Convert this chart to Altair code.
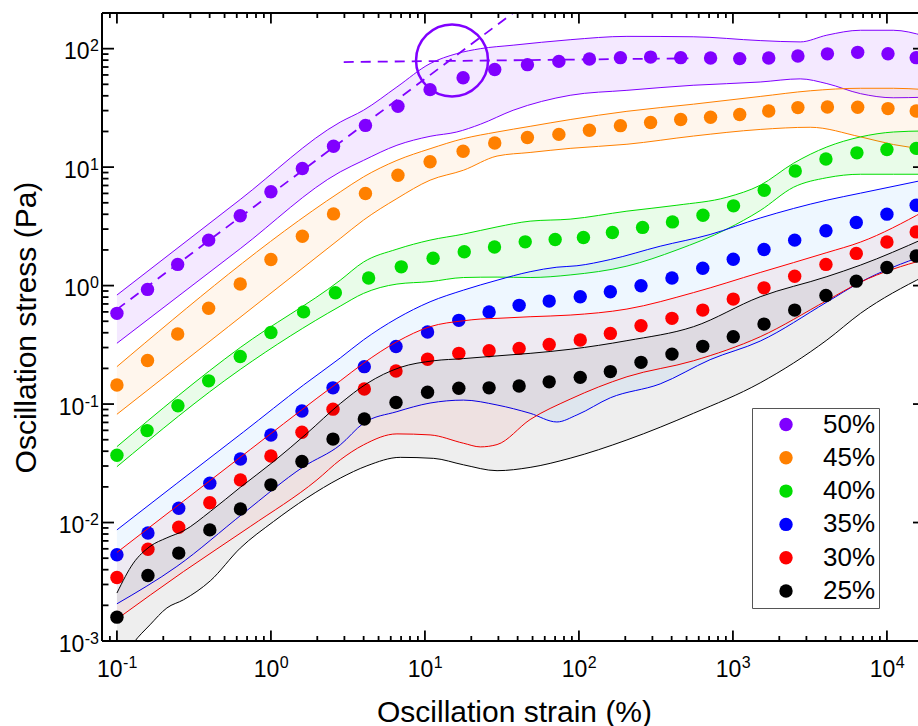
import altair as alt
import pandas as pd

# ---- measured data: oscillation strain (%) vs oscillation stress (Pa) ----
LABELS = ["50%", "45%", "40%", "35%", "30%", "25%"]
COLORS = ["#8000ff", "#ff8000", "#00dd00", "#0000ff", "#ff0000", "#000000"]

STRAIN_HIGH = [0.1, 0.158, 0.248, 0.394, 0.632, 1.00, 1.60, 2.55, 4.11, 6.68, 10.8, 17.7, 28.4,
               46.3, 74.1, 117, 186, 292, 458, 716, 1107, 1708, 2642, 4108, 6460, 10160, 15490]
STRAIN_40 = [0.1, 0.157, 0.249, 0.394, 0.632, 1.00, 1.63, 2.62, 4.31, 7.02, 11.3, 18.0, 28.3,
             44.8, 70.1, 107, 165, 259, 405, 639, 1009, 1597, 2539, 4018, 6385, 10000, 15490]
STRAIN_LOW = [0.1, 0.159, 0.252, 0.401, 0.634, 1.00, 1.59, 2.53, 4.04, 6.49, 10.4, 16.6, 26.1,
              40.9, 64.1, 102, 160, 253, 402, 637, 1005, 1592, 2518, 4018, 6324, 10000, 15490]

STRESS_50 = [0.583, 0.929, 1.51, 2.42, 3.89, 6.20, 9.73, 15.0, 22.5, 32.7, 45.1, 56.9, 66.6,
             73.3, 78.1, 81.7, 84.0, 84.9, 84.0, 83.3, 82.4, 83.3, 86.6, 90.4, 93.1, 90.7, 84.0]
STRESS_45 = [0.145, 0.233, 0.390, 0.643, 1.03, 1.66, 2.61, 4.03, 5.99, 8.55, 11.1, 13.6, 16.0,
             17.8, 18.9, 20.5, 22.4, 23.8, 25.2, 26.4, 27.8, 29.8, 31.8, 32.2, 32.0, 31.2, 29.8]
STRESS_40 = [0.0370, 0.0597, 0.0969, 0.157, 0.252, 0.402, 0.600, 0.869, 1.16, 1.44, 1.70, 1.93,
             2.12, 2.34, 2.45, 2.55, 2.81, 3.10, 3.45, 3.93, 4.71, 6.38, 9.29, 11.7, 13.2, 14.1, 14.4]
STRESS_35 = [0.00534, 0.00815, 0.0132, 0.0215, 0.0344, 0.0548, 0.0875, 0.137, 0.207, 0.306, 0.406,
             0.509, 0.598, 0.681, 0.740, 0.805, 0.887, 0.996, 1.16, 1.40, 1.67, 2.02, 2.42, 2.90,
             3.41, 4.01, 4.77]
STRESS_30 = [0.00344, 0.00594, 0.00912, 0.0147, 0.0229, 0.0365, 0.0578, 0.0906, 0.134, 0.190,
             0.239, 0.268, 0.282, 0.295, 0.319, 0.347, 0.395, 0.458, 0.529, 0.621, 0.769, 0.957,
             1.20, 1.51, 1.87, 2.33, 2.84]
STRESS_25 = [0.00159, 0.00357, 0.00552, 0.00867, 0.0130, 0.0208, 0.0327, 0.0506, 0.0748, 0.103,
             0.126, 0.136, 0.137, 0.142, 0.154, 0.168, 0.188, 0.225, 0.264, 0.307, 0.370, 0.473,
             0.621, 0.826, 1.09, 1.42, 1.78]

# ---- spread of repeated runs (upper / lower envelope) ----
BAND_X_50 = [0.1, 0.632, 2.82, 3.99, 6.58, 10.8, 16.1, 22.9, 37.4, 87.7, 205, 552, 1503, 2735,
             4074, 6739, 10990, 17500]
BAND_HI_50 = [0.832, 5.33, 24.0, 30.2, 47.5, 74.8, 90.8, 100, 107, 119, 127, 126, 117, 114, 130,
              143, 143, 128]
BAND_LO_50 = [0.326, 2.05, 9.12, 11.4, 15.3, 18.2, 19.8, 23.0, 30.2, 40.4, 44.5, 49.1, 52.3, 55.6,
              50.7, 41.7, 38.5, 38.9]

BAND_X_45 = [0.1, 2.82, 3.99, 6.58, 10.8, 17.8, 29.4, 48.2, 87.7, 205, 555, 1503, 3177, 6739,
             11040, 17500]
BAND_HI_45 = [0.207, 6.18, 8.27, 11.4, 14.3, 17.4, 19.8, 22.1, 25.2, 29.6, 34.0, 39.5, 44.1, 46.3,
              46.3, 45.2]
BAND_LO_45 = [0.0820, 2.50, 3.57, 5.43, 7.76, 9.42, 12.4, 13.3, 14.4, 15.6, 18.3, 20.8, 21.7, 18.0,
              15.5, 14.2]

BAND_X_40 = [0.1, 0.632, 2.82, 3.99, 6.58, 10.8, 17.8, 29.4, 48.2, 87.7, 205, 433, 914, 1503, 2478,
             4074, 6739, 11040, 17500]
BAND_HI_40 = [0.0437, 0.300, 1.11, 1.58, 2.03, 2.42, 2.72, 3.13, 3.50, 3.64, 4.25, 4.77, 5.57, 7.03,
              10.8, 14.8, 18.0, 19.8, 20.2]
BAND_LO_40 = [0.0296, 0.196, 0.671, 0.859, 1.03, 1.08, 1.17, 1.18, 1.17, 1.23, 1.46, 2.00, 3.00,
              4.30, 6.77, 8.14, 8.71, 8.71, 8.71]

BAND_X_35 = [0.1, 0.245, 0.664, 1.63, 2.82, 3.99, 6.58, 10.8, 17.8, 29.4, 48.2, 71.9, 97.0, 160,
             337, 711, 1503, 4074, 6739, 17500]
BAND_HI_35 = [0.00867, 0.0214, 0.0582, 0.145, 0.245, 0.348, 0.529, 0.730, 0.916, 1.11, 1.31, 1.43,
              1.47, 1.66, 2.15, 2.70, 3.72, 5.26, 6.03, 7.80]
BAND_LO_35 = [0.00206, 0.00426, 0.0120, 0.0296, 0.0452, 0.0689, 0.0863, 0.102, 0.108, 0.0982,
              0.0836, 0.0706, 0.0809, 0.113, 0.148, 0.237, 0.340, 0.726, 1.07, 1.80]

BAND_X_30 = [0.1, 0.271, 0.734, 1.99, 2.82, 3.99, 6.58, 10.8, 17.8, 22.9, 29.4, 48.2, 87.7, 205,
             555, 1503, 4074, 6739, 17500]
BAND_HI_30 = [0.00559, 0.0152, 0.0413, 0.112, 0.157, 0.221, 0.336, 0.450, 0.505, 0.522, 0.529,
              0.546, 0.564, 0.634, 0.873, 1.29, 1.90, 2.33, 4.25]
BAND_LO_30 = [0.00153, 0.00386, 0.00925, 0.0229, 0.0338, 0.0452, 0.0560, 0.0549, 0.0467, 0.0435,
              0.0455, 0.0740, 0.110, 0.170, 0.232, 0.370, 0.748, 1.07, 1.66]

BAND_X_25 = [0.1, 0.128, 0.164, 0.211, 0.271, 0.404, 0.632, 1.04, 1.71, 2.82, 4.20, 6.92, 11.4,
             17.8, 29.4, 48.2, 87.7, 205, 555, 1503, 4074, 6739, 17500]
BAND_HI_25 = [0.00254, 0.00455, 0.00628, 0.00743, 0.00851, 0.0124, 0.0198, 0.0327, 0.0565, 0.101,
              0.149, 0.204, 0.232, 0.242, 0.255, 0.268, 0.290, 0.343, 0.450, 0.805, 1.19, 1.49, 2.50]
BAND_LO_25 = [0.000573, 0.000962, 0.00137, 0.00190, 0.00223, 0.00322, 0.00608, 0.0102, 0.0161,
              0.0237, 0.0301, 0.0355, 0.0348, 0.0307, 0.0274, 0.0292, 0.0349, 0.0498, 0.0836, 0.151,
              0.347, 0.583, 1.20]

# ---- guide lines for the yield point of the 50% sample ----
SLOPE_X = [0.1, 50]
SLOPE_Y = [0.63, 266]
PLATEAU_X = [2.97, 514]
PLATEAU_Y = [77.1, 82.8]
YIELD_X = [15.0]
YIELD_Y = [79.6]

X_DECADES = [-1, 0, 1, 2, 3, 4]
Y_DECADES = [-3, -2, -1, 0, 1, 2]

SERIES = [
    ("50%", STRAIN_HIGH, STRESS_50, BAND_X_50, BAND_HI_50, BAND_LO_50, 0.085),
    ("45%", STRAIN_HIGH, STRESS_45, BAND_X_45, BAND_HI_45, BAND_LO_45, 0.07),
    ("40%", STRAIN_40, STRESS_40, BAND_X_40, BAND_HI_40, BAND_LO_40, 0.085),
    ("35%", STRAIN_LOW, STRESS_35, BAND_X_35, BAND_HI_35, BAND_LO_35, 0.08),
    ("30%", STRAIN_LOW, STRESS_30, BAND_X_30, BAND_HI_30, BAND_LO_30, 0.05),
    ("25%", STRAIN_LOW, STRESS_25, BAND_X_25, BAND_HI_25, BAND_LO_25, 0.065),
]
FILL = {"50%": "#8000ff", "45%": "#ff8000", "40%": "#00dd00",
        "35%": "#2299ff", "30%": "#ff0000", "25%": "#000000"}

FONT = "Liberation Sans"
W, H = 816, 628
XR = 823  # the frame continues slightly past the right edge of the page

xs = alt.Scale(type="log", domain=[0.08, 17670], range=[0, XR])
ys = alt.Scale(type="log", domain=[0.001, 200])

X_AXIS = alt.Axis(title="Oscillation strain (%)", labels=False, ticks=False, domain=False,
                  grid=False, titleFont=FONT, titleFontSize=30, titleFontWeight="normal",
                  titleColor="black", titleX=412, titleY=80, titleBaseline="alphabetic")
Y_AXIS = alt.Axis(title="Oscillation stress (Pa)", labels=False, ticks=False, domain=False,
                  grid=False, titleFont=FONT, titleFontSize=30, titleFontWeight="normal",
                  titleColor="black", titleX=-67, titleY=314, titleAngle=270,
                  titleBaseline="alphabetic")


def X(field):
    return alt.X(field, type="quantitative", scale=xs, axis=X_AXIS)


def Y(field):
    return alt.Y(field, type="quantitative", scale=ys, axis=Y_AXIS)


layers = []
for label, sx, sy, bx, bhi, blo, op in SERIES:
    color = COLORS[LABELS.index(label)]
    band = pd.DataFrame({"strain": bx, "hi": bhi, "lo": blo})
    pts = pd.DataFrame({"strain": sx, "stress": sy, "conc": label})
    layers.append(alt.Chart(band).mark_area(interpolate="monotone", color=FILL[label],
                                            opacity=op, clip=True)
                  .encode(x=X("strain"), y=Y("hi"), y2="lo"))
    for edge in ("hi", "lo"):
        layers.append(alt.Chart(band).mark_line(interpolate="monotone", color=color,
                                                strokeWidth=1, clip=True)
                      .encode(x=X("strain"), y=Y(edge)))
    if label == "50%":
        for gx, gy in ((SLOPE_X, SLOPE_Y), (PLATEAU_X, PLATEAU_Y)):
            layers.append(alt.Chart(pd.DataFrame({"strain": gx, "stress": gy}))
                          .mark_line(color=color, strokeWidth=1.8, strokeDash=[10, 7], clip=True)
                          .encode(x=X("strain"), y=Y("stress")))
    layers.append(alt.Chart(pts).mark_circle(size=180, opacity=1, clip=True).encode(
        x=X("strain"), y=Y("stress"),
        color=alt.Color("conc:N", scale=alt.Scale(domain=LABELS, range=COLORS),
                        legend=alt.Legend(title=None, orient="none", legendX=650, legendY=395,
                                          padding=3.5, titlePadding=0,
                                          strokeColor="#555555", fillColor="white",
                                          labelFont=FONT, labelFontSize=26, labelColor="black",
                                          symbolType="circle", symbolSize=180,
                                          symbolStrokeWidth=0, symbolOpacity=1, rowPadding=7.3,
                                          symbolOffset=17.5, labelOffset=24))))

# yield marker
layers.append(alt.Chart(pd.DataFrame({"strain": YIELD_X, "stress": YIELD_Y}))
              .mark_point(shape="circle", size=5184, filled=False, color=COLORS[0],
                          strokeWidth=2.5, opacity=1)
              .encode(x=X("strain"), y=Y("stress")))

# frame
one = pd.DataFrame({"a": [0]})
for enc in (dict(x=alt.value(0), x2=alt.value(XR), y=alt.value(0)),
            dict(x=alt.value(0), x2=alt.value(XR), y=alt.value(H)),
            dict(x=alt.value(0), y=alt.value(0), y2=alt.value(H)),
            dict(x=alt.value(XR), y=alt.value(0), y2=alt.value(H))):
    layers.append(alt.Chart(one).mark_rule(color="black", strokeWidth=2).encode(**enc))

# inward ticks on all four sides
x_major = [10.0 ** e for e in X_DECADES]
x_minor = [0.09] + [k * 10.0 ** e for e in X_DECADES for k in range(2, 10) if k * 10.0 ** e < 17670]
y_major = [10.0 ** e for e in Y_DECADES]
y_minor = [k * 10.0 ** e for e in Y_DECADES for k in range(2, 10) if k * 10.0 ** e < 200]
for vals, ln in ((x_major, 10.5), (x_minor, 5)):
    d = pd.DataFrame({"v": vals})
    layers.append(alt.Chart(d).mark_rule(color="black", strokeWidth=1.8)
                  .encode(x=X("v"), y=alt.value(H), y2=alt.value(H - ln)))
    layers.append(alt.Chart(d).mark_rule(color="black", strokeWidth=1.8)
                  .encode(x=X("v"), y=alt.value(0), y2=alt.value(ln)))
for vals, ln in ((y_major, 12), (y_minor, 6.5)):
    d = pd.DataFrame({"v": vals})
    layers.append(alt.Chart(d).mark_rule(color="black", strokeWidth=1.8)
                  .encode(y=Y("v"), x=alt.value(0), x2=alt.value(ln)))
    layers.append(alt.Chart(d).mark_rule(color="black", strokeWidth=1.8)
                  .encode(y=Y("v"), x=alt.value(XR), x2=alt.value(XR - ln)))

# tick labels as 10 with a raised exponent
BASE, EXP = 23, 16
W10 = 1.112 * BASE


def exp_width(e):
    return (0.889 if e < 0 else 0.556) * EXP


xl = pd.DataFrame({"v": [10.0 ** e for e in X_DECADES], "e": [str(e) for e in X_DECADES],
                   "neg": [e < 0 for e in X_DECADES]})
yl = pd.DataFrame({"v": [10.0 ** e for e in Y_DECADES], "e": [str(e) for e in Y_DECADES],
                   "neg": [e < 0 for e in Y_DECADES]})
for neg in (True, False):
    we = exp_width(-1 if neg else 1)
    cond = "datum.neg" if neg else "!datum.neg"
    shift = (W10 - we) / 2
    layers.append(alt.Chart(xl).transform_filter(cond)
                  .mark_text(text="10", align="right", baseline="alphabetic", dx=shift,
                             font=FONT, fontSize=BASE, color="black")
                  .encode(x=X("v"), y=alt.value(H + 36)))
    layers.append(alt.Chart(xl).transform_filter(cond)
                  .mark_text(align="left", baseline="alphabetic", dx=shift + 0.5,
                             font=FONT, fontSize=EXP, color="black")
                  .encode(x=X("v"), y=alt.value(H + 27), text="e:N"))
    layers.append(alt.Chart(yl).transform_filter(cond)
                  .mark_text(text="10", align="right", baseline="alphabetic", dx=-3 - we - 0.5,
                             dy=10.5, font=FONT, fontSize=BASE, color="black")
                  .encode(y=Y("v"), x=alt.value(0)))
    layers.append(alt.Chart(yl).transform_filter(cond)
                  .mark_text(align="right", baseline="alphabetic", dx=-3, dy=2.5,
                             font=FONT, fontSize=EXP, color="black")
                  .encode(y=Y("v"), x=alt.value(0), text="e:N"))

chart = (alt.layer(*layers)
         .properties(width=W, height=H,
                     padding={"left": 102, "top": 13, "right": 0, "bottom": 85},
                     autosize=alt.AutoSizeParams(type="none"))
         .configure_view(strokeWidth=0)
         .configure(background="white"))

chart.save("out.html", embed_options={"renderer": "svg", "actions": False})
